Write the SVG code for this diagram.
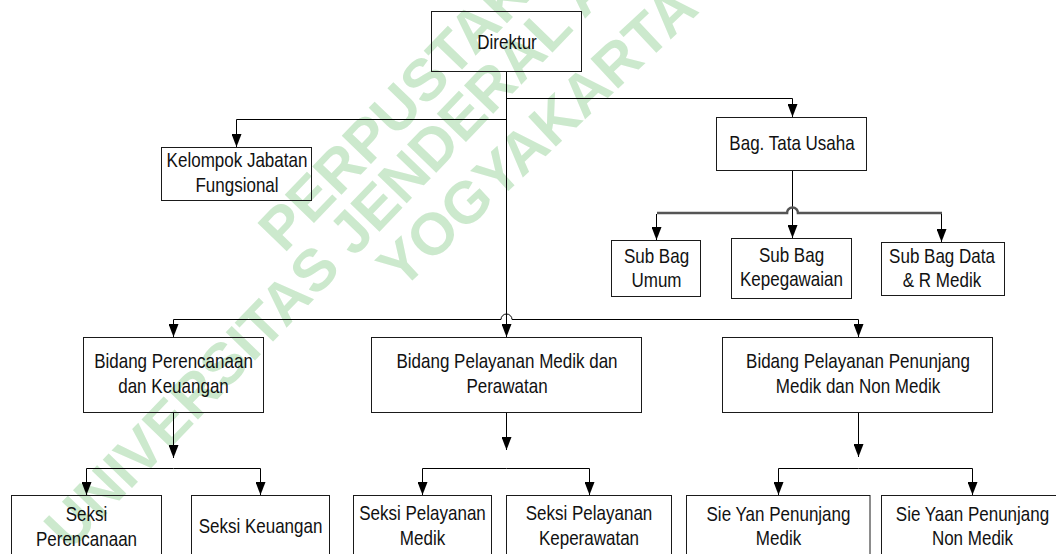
<svg xmlns="http://www.w3.org/2000/svg" width="1056" height="554" viewBox="0 0 1056 554">
<style>
.box{fill:none;stroke:#1a1a1a;stroke-width:1}
.t{font-family:"Liberation Sans",Arial,sans-serif;font-size:17px;fill:#111;text-anchor:middle}
.ln{fill:none;stroke:#000;stroke-width:1}
.bus{fill:none;stroke:#555;stroke-width:2.6}
.wm{font-family:"Liberation Sans",Arial,sans-serif;font-weight:bold;font-size:59px;fill:#cce9cd}
</style>
<defs>
<marker id="ah" viewBox="0 0 13 10" refX="13" refY="5" markerWidth="13" markerHeight="10" markerUnits="userSpaceOnUse" orient="auto">
<path d="M0,0 L13,5 L0,10 z" fill="#000"/>
</marker>
</defs>
<rect width="1056" height="554" fill="#fff"/>
<g id="watermark">
<text class="wm" transform="translate(284,254) rotate(-46)">PERPUSTAKAAN</text>
<text class="wm" transform="translate(70,552) rotate(-46)">UNIVERSITAS JENDERAL ACHMAD YANI</text>
<text class="wm" transform="translate(401,291) rotate(-43)">YOGYAKARTA</text>
</g>
<g id="connectors">
<path class="ln" d="M506.5,72 V337" marker-end="url(#ah)"/>
<path class="ln" d="M506.5,119.5 H236.5 V147" marker-end="url(#ah)"/>
<path class="ln" d="M506.5,98.5 H792.5 V117" marker-end="url(#ah)"/>
<path class="ln" d="M792.5,170 V238" marker-end="url(#ah)"/>
<path class="bus" d="M657,213 H787 a5.5,5.5 0 0 1 11,0 H942"/>
<path class="ln" d="M656.5,214 V240" marker-end="url(#ah)"/>
<path class="ln" d="M941.5,214 V242" marker-end="url(#ah)"/>
<path class="ln" d="M173.5,319.5 H501 a5.5,5.5 0 0 1 11,0 H858.5 V337" marker-end="url(#ah)"/>
<path class="ln" d="M173.5,319.5 V337" marker-end="url(#ah)"/>
<path class="ln" d="M173.5,412 V458" marker-end="url(#ah)"/>
<path class="ln" d="M173.5,468.5 H86.5 V495" marker-end="url(#ah)"/>
<path class="ln" d="M173.5,468.5 H260.5 V495" marker-end="url(#ah)"/>
<path class="ln" d="M506.5,412 V450" marker-end="url(#ah)"/>
<path class="ln" d="M506.5,468.5 H422.5 V495" marker-end="url(#ah)"/>
<path class="ln" d="M506.5,468.5 H589.5 V495" marker-end="url(#ah)"/>
<path class="ln" d="M858.5,412 V457" marker-end="url(#ah)"/>
<path class="ln" d="M858.5,468.5 H778.5 V495" marker-end="url(#ah)"/>
<path class="ln" d="M858.5,468.5 H972.5 V495" marker-end="url(#ah)"/>
</g>
<g id="direktur">
<rect class="box" x="431.5" y="11.5" width="150" height="60"/>
<text class="t" transform="translate(507,49) scale(1,1.22)">Direktur</text>
</g>
<g id="kelompok-jabatan">
<rect class="box" x="161.5" y="147.5" width="150" height="53"/>
<text class="t" transform="translate(237,167) scale(1,1.22)">Kelompok Jabatan</text>
<text class="t" transform="translate(237,192) scale(1,1.22)">Fungsional</text>
</g>
<g id="bag-tata-usaha">
<rect class="box" x="716.5" y="117.5" width="150" height="53"/>
<text class="t" transform="translate(792,150) scale(1,1.22)">Bag. Tata Usaha</text>
</g>
<g id="sub-bag-umum">
<rect class="box" x="611.5" y="240.5" width="89" height="56"/>
<text class="t" transform="translate(656.5,262.5) scale(1,1.22)">Sub Bag</text>
<text class="t" transform="translate(656.5,286.5) scale(1,1.22)">Umum</text>
</g>
<g id="sub-bag-kepegawaian">
<rect class="box" x="731.5" y="238.5" width="120" height="60"/>
<text class="t" transform="translate(791.5,261.5) scale(1,1.22)">Sub Bag</text>
<text class="t" transform="translate(791.5,285.5) scale(1,1.22)">Kepegawaian</text>
</g>
<g id="sub-bag-data">
<rect class="box" x="881.5" y="242.5" width="123" height="53"/>
<text class="t" transform="translate(942,262.5) scale(1,1.22)">Sub Bag Data</text>
<text class="t" transform="translate(942,286.5) scale(1,1.22)">&amp; R Medik</text>
</g>
<g id="bidang-perencanaan">
<rect class="box" x="83.5" y="337.5" width="180" height="75"/>
<text class="t" transform="translate(173.5,368) scale(1,1.22)">Bidang Perencanaan</text>
<text class="t" transform="translate(173.5,393) scale(1,1.22)">dan Keuangan</text>
</g>
<g id="bidang-pelayanan-medik">
<rect class="box" x="371.5" y="337.5" width="270" height="75"/>
<text class="t" transform="translate(507,368) scale(1,1.22)">Bidang Pelayanan Medik dan</text>
<text class="t" transform="translate(507,393) scale(1,1.22)">Perawatan</text>
</g>
<g id="bidang-penunjang">
<rect class="box" x="722.5" y="337.5" width="270" height="75"/>
<text class="t" transform="translate(858,368) scale(1,1.22)">Bidang Pelayanan Penunjang</text>
<text class="t" transform="translate(858,393) scale(1,1.22)">Medik dan Non Medik</text>
</g>
<g id="seksi-perencanaan">
<rect class="box" x="11.5" y="495.5" width="150" height="70"/>
<text class="t" transform="translate(86.5,521) scale(1,1.22)">Seksi</text>
<text class="t" transform="translate(86.5,546) scale(1,1.22)">Perencanaan</text>
</g>
<g id="seksi-keuangan">
<rect class="box" x="191.5" y="495.5" width="138" height="70"/>
<text class="t" transform="translate(260.5,533) scale(1,1.22)">Seksi Keuangan</text>
</g>
<g id="seksi-pelayanan-medik">
<rect class="box" x="353.5" y="495.5" width="138" height="70"/>
<text class="t" transform="translate(422.5,520) scale(1,1.22)">Seksi Pelayanan</text>
<text class="t" transform="translate(422.5,545) scale(1,1.22)">Medik</text>
</g>
<g id="seksi-pelayanan-keperawatan">
<rect class="box" x="506.5" y="495.5" width="165" height="70"/>
<text class="t" transform="translate(589,520) scale(1,1.22)">Seksi Pelayanan</text>
<text class="t" transform="translate(589,545) scale(1,1.22)">Keperawatan</text>
</g>
<g id="sie-yan-penunjang-medik">
<rect class="box" x="686.5" y="495.5" width="183.5" height="70"/>
<text class="t" transform="translate(778.5,521) scale(1,1.22)">Sie Yan Penunjang</text>
<text class="t" transform="translate(778.5,545) scale(1,1.22)">Medik</text>
</g>
<g id="sie-yaan-penunjang-non-medik">
<rect class="box" x="881.5" y="495.5" width="182" height="70"/>
<text class="t" transform="translate(972.5,521) scale(1,1.22)">Sie Yaan Penunjang</text>
<text class="t" transform="translate(972.5,545) scale(1,1.22)">Non Medik</text>
</g>
</svg>
